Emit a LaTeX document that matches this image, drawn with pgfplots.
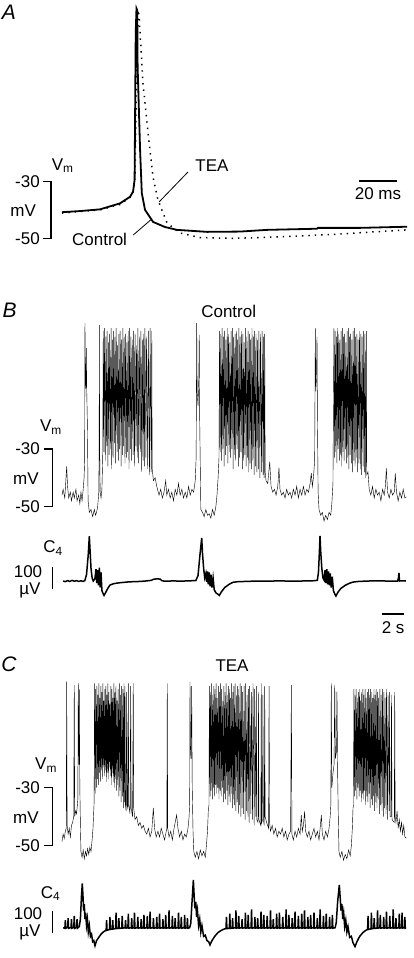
\documentclass[border=0pt]{standalone}
\usepackage{pgfplots}
\pgfplotsset{compat=1.18}
\usepackage{fontspec}
\setmainfont{Liberation Sans}

% one axis per trace, hidden; units chosen so that 1 px of the figure = 1 pt
\pgfplotsset{trace/.style={hide axis, clip=false, enlargelimits=false,
    anchor=south west, no markers}}
\tikzset{lbl/.style={font=\fontsize{17}{19}\selectfont, inner sep=0pt},
    letter/.style={font=\fontsize{21}{23}\selectfont\itshape, inner sep=0pt}}

\begin{document}
\begin{tikzpicture}
\useasboundingbox (0,0) rectangle (414pt,-958pt);

% ---------------- A : single spike, ms / mV
\begin{axis}[trace, at={(62pt,-252.95pt)}, x=1.9pt, y=2.85pt,
    xmin=0, xmax=181.6, ymin=-55, ymax=35]
\addplot[black, line width=1.5pt, dash pattern=on 1.4pt off 5pt] coordinates {
  (0,-41.0) (20,-39.9) (30.5,-38.0) (35.8,-35.5) (37.6,-33.3) (38.4,-29.4)
  (38.9,-8.3) (39.5,19.7) (40.2,29.1) (40.5,28.8) (41.1,22.2) (42.6,4.6)
  (45.3,-12.9) (47.9,-28.4) (50.5,-36.4) (55.3,-44.5) (62.1,-48.0)
  (72.6,-49.6) (90,-49.9) (116.3,-49.3) (142.6,-48.5) (181.6,-46.9)};
\addplot[black, line width=1.8pt] coordinates {
  (0,-40.7) (9.5,-40.3) (20,-39.7) (30.5,-37.6) (35.8,-35.3) (37.4,-33.5)
  (38.2,-29.4) (38.4,-12.9) (38.8,22.2) (39.2,30.8) (39.6,30.2) (39.8,10.4)
  (41.1,-18.9) (42.0,-34.0) (43.7,-39.9) (47.9,-44.1) (54.2,-45.9)
  (60.5,-46.9) (76.3,-47.6) (93.7,-47.5) (107.9,-46.9) (134.2,-46.5)
  (134.7,-46.2) (156.8,-46.2) (181.6,-45.8)};
% scale bars and pointers
\addplot[black, line width=1.2pt] coordinates {(-9.8,-30) (-5.79,-30) (-5.79,-50) (-9.8,-50)};
\addplot[black, line width=1.2pt] coordinates {(156.3,-29.75) (176.3,-29.75)};
\addplot[black, line width=0.8pt] coordinates {(66.3,-26.6) (51.1,-37.1)};
\addplot[black, line width=0.8pt] coordinates {(37.5,-48.7) (46.7,-43.4)};
\node[letter] at (axis cs:-27.9,29.5) {A};
\node[lbl] at (axis cs:0.4,-24.3) {V\textsubscript{m}};
\node[lbl, anchor=east] at (axis cs:-11.6,-30) {-30};
\node[lbl, anchor=east] at (axis cs:-11.6,-50) {-50};
\node[lbl] at (axis cs:-20.4,-40.2) {mV};
\node[lbl] at (axis cs:78.9,-24.5) {TEA};
\node[lbl] at (axis cs:19.8,-50.2) {Control};
\node[lbl] at (axis cs:166.3,-34.2) {20 ms};
\end{axis}

% ---------------- B : control, Vm (s / mV)
\begin{axis}[trace, at={(62pt,-535.4pt)}, x=11.15pt, y=2.88pt,
    xmin=0, xmax=30.88, ymin=-60, ymax=20]
\addplot[black, line width=0.42pt] coordinates {
  (0,-46) (0.1,-44) (0.25,-47) (0.42,-36) (0.5,-43) (0.6,-47) (0.75,-45)
  (0.85,-48) (1.0,-45) (1.1,-47) (1.25,-44) (1.35,-48) (1.5,-46) (1.6,-49)
  (1.7,-45) (1.8,-48) (1.9,-44) (1.98,-40) (2.03,-34) (2.06,13.7) (2.10,-6)
  (2.14,-9) (2.18,5) (2.22,-10) (2.28,-22) (2.34,-48) (2.45,-52) (2.6,-51)
  (2.75,-53.5) (2.9,-51) (3.0,-53) (3.1,-52) (3.2,-50) (3.3,-45) (3.33,-30)
  (3.35,13) (3.38,-30) (3.42,-45) (3.5,-47) (3.58,-44)
  (3.65,-33) (3.70,11) (3.75,-31) (3.80,12) (3.88,-34) (3.93,9) (3.99,-29)
  (4.04,11) (4.11,-36) (4.16,7) (4.22,-32) (4.27,10) (4.35,-30) (4.40,12)
  (4.46,-37) (4.51,8) (4.58,-33) (4.63,11) (4.70,-28) (4.75,9) (4.81,-35)
  (4.86,12) (4.94,-31) (4.99,6) (5.05,-34) (5.10,10) (5.17,-30) (5.22,11)
  (5.30,-36) (5.35,8) (5.41,-32) (5.46,12) (5.53,-29) (5.58,9) (5.65,-35)
  (5.70,10) (5.77,-33) (5.82,7) (5.89,-31) (5.94,11) (6.01,-37) (6.06,12)
  (6.13,-30) (6.18,9) (6.25,-34) (6.30,8) (6.38,-32) (6.43,11) (6.50,-36)
  (6.55,10) (6.63,-29) (6.68,6) (6.75,-33) (6.80,12) (6.88,-35) (6.93,9)
  (7.02,-31) (7.07,11) (7.15,-38) (7.20,8) (7.28,-34) (7.33,10) (7.39,-36)
  (7.44,12) (7.53,-33) (7.58,9) (7.69,-37) (7.74,11) (7.85,-39) (7.90,12)
  (8.00,-38) (8.05,11)
  (8.09,-37) (8.2,-41) (8.35,-40) (8.5,-43) (8.7,-46) (8.85,-44) (9.0,-47)
  (9.15,-45) (9.3,-41) (9.4,-46) (9.55,-44) (9.7,-47) (9.85,-45) (10.0,-48)
  (10.15,-44) (10.3,-46) (10.45,-42) (10.6,-46) (10.75,-44) (10.9,-47)
  (11.05,-45) (11.2,-47) (11.35,-43) (11.5,-46) (11.65,-44) (11.8,-45)
  (11.95,-41) (12.03,-33) (12.08,13.7) (12.12,-10) (12.2,-15) (12.27,-5)
  (12.31,9.6) (12.35,-20) (12.45,-51) (12.6,-52) (12.75,-53.5) (12.9,-51)
  (13.05,-53) (13.2,-52.5) (13.35,-54) (13.5,-51) (13.65,-53) (13.8,-50)
  (13.9,-46) (14.0,-40)
  (14.08,-33) (14.13,11) (14.19,-31) (14.24,10) (14.31,-34) (14.36,12)
  (14.42,-30) (14.47,9) (14.54,-36) (14.59,11) (14.65,-32) (14.70,8)
  (14.77,-29) (14.82,12) (14.88,-35) (14.93,10) (15.00,-31) (15.05,7)
  (15.12,-33) (15.17,11) (15.23,-30) (15.28,12) (15.35,-37) (15.40,9)
  (15.47,-32) (15.52,10) (15.58,-34) (15.63,11) (15.70,-30) (15.75,8)
  (15.82,-36) (15.87,12) (15.93,-33) (15.98,9) (16.05,-31) (16.10,11)
  (16.17,-37) (16.22,10) (16.28,-34) (16.33,7) (16.40,-32) (16.45,12)
  (16.52,-36) (16.57,9) (16.64,-33) (16.69,11) (16.75,-38) (16.80,10)
  (16.87,-35) (16.92,8) (16.99,-37) (17.04,12) (17.11,-34) (17.16,9)
  (17.23,-39) (17.28,11) (17.35,-36) (17.40,10) (17.48,-38) (17.53,8)
  (17.61,-37) (17.66,11) (17.75,-40) (17.80,10) (17.90,-38) (17.95,11)
  (18.03,-39) (18.08,9) (18.13,-40) (18.18,10)
  (18.22,-38) (18.3,-41) (18.45,-42) (18.63,-34.4) (18.75,-43) (18.9,-45)
  (19.05,-44) (19.2,-46) (19.35,-43) (19.46,-36.5) (19.55,-44) (19.7,-46)
  (19.85,-45) (20.0,-47) (20.15,-44) (20.3,-46) (20.45,-45) (20.6,-47)
  (20.75,-44) (20.9,-46) (21.05,-43) (21.2,-47) (21.35,-44) (21.5,-46)
  (21.65,-43) (21.8,-46) (21.95,-44) (22.1,-45) (22.25,-42) (22.36,-38.4)
  (22.45,-43) (22.55,-40) (22.66,-34) (22.72,11.9) (22.76,-10) (22.82,-6)
  (22.87,9) (22.91,-20) (22.97,-45) (23.05,-51) (23.2,-53) (23.35,-52)
  (23.5,-55) (23.65,-53) (23.8,-54.5) (23.95,-52) (24.1,-53) (24.2,-49)
  (24.3,-42) (24.39,11.9)
  (24.45,-33) (24.50,11) (24.55,-31) (24.60,9) (24.66,-35) (24.71,12)
  (24.77,-30) (24.82,10) (24.87,-34) (24.92,8) (24.98,-32) (25.03,11)
  (25.09,-36) (25.14,12) (25.20,-31) (25.25,9) (25.30,-34) (25.35,10)
  (25.41,-30) (25.46,7) (25.52,-35) (25.57,11) (25.63,-33) (25.68,12)
  (25.73,-37) (25.78,9) (25.84,-32) (25.89,10) (25.95,-35) (26.00,8)
  (26.06,-38) (26.11,11) (26.17,-34) (26.22,12) (26.28,-36) (26.33,9)
  (26.39,-33) (26.44,10) (26.51,-38) (26.56,8) (26.63,-35) (26.68,11)
  (26.75,-37) (26.80,10) (26.87,-39) (26.92,9) (27.00,-36) (27.05,11)
  (27.12,-38) (27.17,10) (27.24,-40) (27.29,11)
  (27.33,-39) (27.44,-37.9) (27.55,-44) (27.7,-46) (27.85,-43) (28.0,-47)
  (28.15,-44) (28.3,-46) (28.45,-45) (28.6,-48) (28.75,-44) (28.9,-46)
  (29.0,-43) (29.09,-36.7) (29.2,-45) (29.35,-47) (29.5,-44) (29.65,-46)
  (29.8,-45) (29.89,-38.5) (30.0,-45) (30.15,-48) (30.3,-45) (30.45,-47)
  (30.6,-44) (30.75,-47) (30.88,-46.6)};
\addplot[black, line width=1.2pt] coordinates {(-1.6,-30) (-0.87,-30) (-0.87,-50) (-1.6,-50)};
\node[letter] at (axis cs:-4.69,18.0) {B};
\node[lbl] at (axis cs:14.95,17.9) {Control};
\node[lbl] at (axis cs:-0.99,-22.4) {V\textsubscript{m}};
\node[lbl, anchor=east] at (axis cs:-1.97,-30) {-30};
\node[lbl, anchor=east] at (axis cs:-1.97,-50) {-50};
\node[lbl] at (axis cs:-3.23,-40.4) {mV};
\end{axis}

% ---------------- B : control, C4 (s / uV)
\begin{axis}[trace, at={(62pt,-602.5pt)}, x=11.15pt, y=0.215pt,
    xmin=0, xmax=30.88, ymin=-100, ymax=250]
\addplot[black, line width=1.5pt] coordinates {
  (0.1,0) (0.3,-3) (0.5,2) (0.7,-2) (0.9,3) (1.1,-1) (1.3,2) (1.5,-2)
  (1.7,1) (1.9,-2) (2.05,2) (2.2,30) (2.35,120) (2.45,208) (2.52,140)
  (2.6,60) (2.7,15) (2.8,0) (2.95,10) (3.05,55) (3.12,-10) (3.2,50)
  (3.27,-20) (3.35,62) (3.42,-30) (3.5,40) (3.58,-45) (3.7,-60) (3.77,-67)
  (3.9,-55) (4.1,-35) (4.3,-19) (4.6,-13) (4.9,-10) (5.2,-8) (5.6,-6)
  (6.0,-4) (6.5,-3) (7.0,-2) (7.5,0) (8.0,3) (8.2,8) (8.5,10) (8.8,9)
  (8.94,2) (9.1,0) (9.5,-1) (10,1) (10.5,-1) (11,0) (11.5,1) (12.0,2)
  (12.2,25) (12.35,110) (12.53,200) (12.6,130) (12.7,60) (12.8,15)
  (12.9,35) (12.97,-5) (13.05,45) (13.12,-15) (13.2,40) (13.28,-25)
  (13.36,30) (13.45,-30) (13.55,15) (13.65,-40) (13.8,-55) (14.0,-62)
  (14.11,-67) (14.3,-50) (14.6,-30) (15.0,-15) (15.34,-6) (15.8,-3)
  (16.5,-2) (17.5,0) (18.5,-1) (19.5,1) (20.5,-1) (21.5,0) (22.5,1)
  (22.9,3) (23.0,40) (23.08,130) (23.14,210) (23.2,140) (23.3,60)
  (23.4,15) (23.5,5) (23.59,50) (23.66,-10) (23.75,55) (23.82,-15)
  (23.9,45) (23.98,-20) (24.06,35) (24.14,-30) (24.24,20) (24.34,-45)
  (24.48,-62) (24.57,-70) (24.75,-52) (25.0,-35) (25.4,-20) (25.8,-10)
  (26.1,-5) (26.6,-2) (27.5,0) (28.5,1) (29.5,-1) (30.1,0) (30.18,15)
  (30.22,38) (30.27,0) (30.5,1) (30.85,0)};
\addplot[black, line width=1.2pt] coordinates {(-0.87,-35) (-0.87,65)};
\addplot[black, line width=1.2pt] coordinates {(28.70,-153) (30.70,-153)};
\node[lbl] at (axis cs:-0.81,153) {C\textsubscript{4}};
\node[lbl] at (axis cs:-3.05,42) {100};
\node[lbl] at (axis cs:-2.87,-42) {µV};
\node[lbl] at (axis cs:29.7,-219) {2 s};
\end{axis}

% ---------------- C : TEA, Vm (s / mV)
\begin{axis}[trace, at={(62pt,-874.7pt)}, x=11.15pt, y=2.9pt,
    xmin=0, xmax=30.88, ymin=-60, ymax=20]
\addplot[black, line width=0.42pt] coordinates {
  (0,-48.6) (0.1,-46) (0.2,-47.5) (0.3,-45) (0.38,-44) (0.42,6.6) (0.46,-43)
  (0.55,-46) (0.65,-44) (0.75,-47) (0.85,-43) (0.95,-42) (1.05,-40)
  (1.10,5.4) (1.14,-40) (1.22,-38) (1.3,-39) (1.38,-36) (1.42,-34)
  (1.46,6.1) (1.50,-20) (1.52,-22) (1.55,4) (1.60,-30) (1.66,-45)
  (1.70,-52) (1.8,-54) (1.9,-51.5) (2.0,-54.5) (2.1,-52) (2.2,-53.5)
  (2.3,-51) (2.4,-53) (2.5,-50.5) (2.6,-52) (2.7,-48) (2.78,-44)
  (2.88,-35) (2.92,6) (2.98,-32) (3.02,4) (3.08,-30) (3.12,5) (3.18,-27)
  (3.22,2) (3.27,-29) (3.31,6) (3.36,-25) (3.40,1) (3.45,-28) (3.49,5)
  (3.54,-24) (3.58,3) (3.63,-27) (3.67,6) (3.72,-23) (3.76,0) (3.81,-26)
  (3.85,4) (3.90,-24) (3.94,5) (3.99,-28) (4.03,2) (4.08,-25) (4.12,6)
  (4.17,-27) (4.21,3) (4.26,-23) (4.30,-1) (4.35,-26) (4.39,5) (4.44,-29)
  (4.48,4) (4.53,-25) (4.57,1) (4.62,-28) (4.66,6) (4.71,-30) (4.75,3)
  (4.80,-27) (4.84,5) (4.90,-31) (4.94,0) (5.00,-29) (5.04,4) (5.10,-33)
  (5.14,6) (5.20,-31) (5.24,2) (5.31,-35) (5.35,5) (5.42,-33) (5.46,4)
  (5.52,-37) (5.56,6) (5.61,-35) (5.65,5) (5.69,-36) (5.75,-38) (5.80,3)
  (5.84,-36) (5.90,-37) (5.95,6) (5.99,-36) (6.10,-39) (6.16,5) (6.20,-37)
  (6.33,-40) (6.39,6)
  (6.43,-37) (6.55,-41) (6.7,-40) (6.85,-43) (7.0,-42) (7.15,-44) (7.3,-43)
  (7.45,-45) (7.6,-46) (7.75,-44) (7.9,-47) (8.05,-45) (8.19,-37) (8.3,-44)
  (8.45,-47) (8.6,-45) (8.75,-47) (8.9,-44) (9.05,-46) (9.2,-48) (9.35,-45)
  (9.40,-44) (9.44,6) (9.48,-44) (9.6,-47) (9.75,-45) (9.9,-48) (10.05,-44)
  (10.15,-42) (10.28,-39.4) (10.4,-44) (10.55,-47) (10.7,-45) (10.85,-48)
  (11.0,-46) (11.15,-47) (11.3,-44) (11.4,-40) (11.45,-35) (11.48,6.6)
  (11.52,-15) (11.58,-20) (11.63,5) (11.68,-30) (11.75,-45) (11.82,-52)
  (11.95,-54) (12.1,-52) (12.25,-54.5) (12.4,-51.5) (12.55,-53.5) (12.7,-52)
  (12.85,-54) (12.95,-50) (13.05,-45) (13.12,-38)
  (13.18,-36) (13.22,5) (13.28,-33) (13.32,3) (13.38,-31) (13.42,6)
  (13.48,-34) (13.52,2) (13.58,-30) (13.62,5) (13.68,-33) (13.72,4)
  (13.78,-29) (13.82,6) (13.88,-32) (13.92,1) (13.98,-30) (14.02,5)
  (14.08,-34) (14.12,3) (14.18,-31) (14.22,6) (14.28,-33) (14.32,4)
  (14.38,-30) (14.42,0) (14.48,-35) (14.52,5) (14.58,-32) (14.62,3)
  (14.68,-34) (14.72,6) (14.78,-31) (14.82,2) (14.88,-36) (14.92,5)
  (14.98,-33) (15.02,4) (15.08,-35) (15.12,1) (15.18,-32) (15.22,6)
  (15.28,-37) (15.32,3) (15.38,-34) (15.42,5) (15.48,-36) (15.52,6)
  (15.59,-38) (15.63,2) (15.71,-35) (15.75,5) (15.81,-39) (15.85,4)
  (15.93,-36) (15.97,6) (16.04,-40) (16.08,5) (16.16,-37) (16.20,3)
  (16.29,-39) (16.33,5) (16.43,-41) (16.47,6) (16.56,-38) (16.60,2)
  (16.68,-40) (16.72,4) (16.79,-42) (16.83,5) (16.94,-39) (16.98,3)
  (17.09,-41) (17.13,6) (17.24,-43) (17.28,4) (17.39,-40) (17.43,5)
  (17.47,-41) (17.58,-42) (17.62,3) (17.66,-41) (17.83,-43) (17.87,6)
  (17.91,-42) (17.98,-41) (18.02,2) (18.06,-41) (18.14,-43) (18.18,5)
  (18.22,-40) (18.35,-42) (18.53,-44) (18.57,5)
  (18.62,-42) (18.7,-45) (18.85,-43) (19.0,-46) (19.15,-44) (19.3,-47)
  (19.45,-45) (19.6,-46) (19.75,-44) (19.9,-47) (20.05,-45) (20.2,-48)
  (20.35,-46) (20.5,-45) (20.57,5.4) (20.62,-46) (20.75,-48) (20.9,-45)
  (21.05,-47) (21.2,-44) (21.35,-46) (21.46,-39.4) (21.55,-45) (21.65,-43)
  (21.76,-38.2) (21.85,-45) (22.0,-47) (22.15,-45) (22.3,-48) (22.45,-46)
  (22.6,-44) (22.75,-47) (22.9,-45) (23.05,-48) (23.15,-44) (23.26,-39.4)
  (23.35,-46) (23.5,-48) (23.65,-45) (23.8,-47) (23.95,-44) (24.05,-40)
  (24.11,-36) (24.15,6) (24.2,-30) (24.3,-25) (24.4,-22) (24.46,5.4)
  (24.52,-20) (24.6,-18) (24.66,3.1) (24.72,-25) (24.78,-40) (24.84,-52)
  (24.95,-54) (25.1,-52) (25.25,-55) (25.4,-53) (25.55,-54.5) (25.7,-51.5)
  (25.85,-53.5) (25.95,-50) (26.04,-44) (26.1,-37)
  (26.14,-36) (26.18,4) (26.24,-33) (26.28,2) (26.34,-31) (26.38,4)
  (26.44,-34) (26.48,1) (26.54,-30) (26.58,3) (26.64,-33) (26.68,4)
  (26.74,-31) (26.78,0) (26.84,-35) (26.88,3) (26.94,-32) (26.98,4)
  (27.04,-34) (27.08,2) (27.14,-31) (27.18,4) (27.24,-36) (27.28,1)
  (27.34,-33) (27.38,3) (27.44,-35) (27.48,4) (27.54,-32) (27.58,2)
  (27.64,-37) (27.68,4) (27.74,-34) (27.78,3) (27.84,-36) (27.88,1)
  (27.94,-33) (27.98,4) (28.04,-38) (28.08,2) (28.14,-35) (28.18,4)
  (28.25,-37) (28.29,3) (28.36,-34) (28.40,1) (28.47,-39) (28.51,4)
  (28.58,-36) (28.62,2) (28.70,-38) (28.74,4) (28.82,-40) (28.86,3)
  (28.94,-37) (28.98,1) (29.06,-39) (29.10,4) (29.20,-41) (29.24,2)
  (29.34,-38) (29.38,3) (29.42,-40) (29.51,-40) (29.55,2) (29.60,-41)
  (29.80,-42) (29.84,3) (29.88,-40)
  (29.95,-42) (30.05,-38) (30.15,-44) (30.25,-41) (30.35,-45) (30.45,-42)
  (30.55,-46) (30.65,-43) (30.75,-47) (30.88,-47.4)};
\addplot[black, line width=1.2pt] coordinates {(-1.6,-30) (-0.87,-30) (-0.87,-50) (-1.6,-50)};
\node[letter] at (axis cs:-4.75,12.6) {C};
\node[lbl] at (axis cs:15.25,12.1) {TEA};
\node[lbl] at (axis cs:-1.43,-22.2) {V\textsubscript{m}};
\node[lbl, anchor=east] at (axis cs:-1.97,-30) {-30};
\node[lbl, anchor=east] at (axis cs:-1.97,-50) {-50};
\node[lbl] at (axis cs:-3.23,-40.3) {mV};
\end{axis}

% ---------------- C : TEA, C4 (s / uV)
\begin{axis}[trace, at={(62pt,-949.2pt)}, x=11.15pt, y=0.215pt,
    xmin=0, xmax=30.88, ymin=-100, ymax=250]
\addplot[black, line width=1.5pt] coordinates {
  (0.1,0) (0.26,-3) (0.3,35) (0.34,-2) (0.51,2) (0.55,45) (0.59,-3)
  (0.81,1) (0.85,40) (0.89,-2) (1.06,2) (1.1,55) (1.14,-3) (1.31,1)
  (1.35,40) (1.39,-2) (1.55,5) (1.65,40) (1.75,150) (1.82,206) (1.88,150)
  (1.94,80) (2.0,110) (2.06,40) (2.12,70) (2.2,10) (2.28,40) (2.36,-20)
  (2.45,10) (2.55,-40) (2.65,-30) (2.75,-65) (2.85,-60) (2.96,-84)
  (3.1,-60) (3.3,-45) (3.5,-30) (3.7,-20) (3.85,-15)
  (3.96,-12) (4.0,35) (4.04,-12) (4.26,-8) (4.3,50) (4.34,-8)
  (4.51,-6) (4.55,35) (4.59,-6) (4.81,-4) (4.85,70) (4.89,-4)
  (5.06,-3) (5.1,45) (5.14,-3) (5.36,-2) (5.4,55) (5.44,-2)
  (5.66,0) (5.7,35) (5.74,-2) (5.91,0) (5.95,65) (5.99,-2)
  (6.21,0) (6.25,45) (6.29,-2) (6.46,0) (6.5,70) (6.54,-2)
  (6.76,0) (6.8,50) (6.84,-2) (7.06,0) (7.1,40) (7.14,-2)
  (7.31,0) (7.35,60) (7.39,-2) (7.61,0) (7.65,55) (7.69,-2)
  (7.86,0) (7.9,75) (7.94,-2) (8.16,0) (8.2,45) (8.24,-2)
  (8.46,0) (8.5,50) (8.54,-2) (8.71,0) (8.75,65) (8.79,-2)
  (9.01,0) (9.05,40) (9.09,-2) (9.26,0) (9.3,60) (9.34,-2)
  (9.56,0) (9.6,80) (9.64,-2) (9.86,0) (9.9,55) (9.94,-2)
  (10.11,0) (10.15,45) (10.19,-2) (10.41,0) (10.45,70) (10.49,-2)
  (10.66,0) (10.7,50) (10.74,-2) (10.96,0) (11.0,60) (11.04,-2)
  (11.21,0) (11.25,45) (11.29,-2)
  (11.45,0) (11.55,20) (11.65,110) (11.78,222) (11.85,150) (11.92,90)
  (12.0,120) (12.07,50) (12.15,80) (12.25,10) (12.35,40) (12.45,-20)
  (12.55,10) (12.7,-40) (12.85,-35) (13.0,-60) (13.15,-65) (13.27,-80)
  (13.45,-60) (13.7,-40) (14.0,-22) (14.3,-12) (14.55,-6)
  (14.71,-4) (14.75,50) (14.79,-4) (15.01,-3) (15.05,65) (15.09,-3)
  (15.26,-2) (15.3,45) (15.34,-2) (15.56,0) (15.6,80) (15.64,-2)
  (15.81,0) (15.85,55) (15.89,-2) (16.11,0) (16.15,40) (16.19,-2)
  (16.41,0) (16.45,70) (16.49,-2) (16.66,0) (16.7,60) (16.74,-2)
  (16.96,0) (17.0,85) (17.04,-2) (17.26,0) (17.3,50) (17.34,-2)
  (17.51,0) (17.55,45) (17.59,-2) (17.81,0) (17.85,75) (17.89,-2)
  (18.06,0) (18.1,60) (18.14,-2) (18.36,0) (18.4,55) (18.44,-2)
  (18.66,0) (18.7,80) (18.74,-2) (18.91,0) (18.95,40) (18.99,-2)
  (19.21,0) (19.25,65) (19.29,-2) (19.46,0) (19.5,70) (19.54,-2)
  (19.76,0) (19.8,50) (19.84,-2) (20.06,0) (20.1,85) (20.14,-2)
  (20.31,0) (20.35,60) (20.39,-2) (20.61,0) (20.65,45) (20.69,-2)
  (20.86,0) (20.9,75) (20.94,-2) (21.16,0) (21.2,55) (21.24,-2)
  (21.46,0) (21.5,65) (21.54,-2) (21.71,0) (21.75,80) (21.79,-2)
  (22.01,0) (22.05,50) (22.09,-2) (22.26,0) (22.3,60) (22.34,-2)
  (22.56,0) (22.6,70) (22.64,-2) (22.86,0) (22.9,45) (22.94,-2)
  (23.11,0) (23.15,85) (23.19,-2) (23.41,0) (23.45,55) (23.49,-2)
  (23.66,0) (23.7,65) (23.74,-2) (23.96,0) (24.0,50) (24.04,-2)
  (24.21,0) (24.25,60) (24.29,-2)
  (24.5,0) (24.6,25) (24.72,120) (24.87,199) (24.95,140) (25.02,80)
  (25.1,110) (25.18,40) (25.26,70) (25.35,5) (25.45,35) (25.55,-20)
  (25.65,5) (25.8,-45) (25.95,-40) (26.1,-70) (26.28,-88) (26.45,-65)
  (26.7,-40) (27.0,-22) (27.25,-12)
  (27.41,-8) (27.45,55) (27.49,-8) (27.71,-5) (27.75,70) (27.79,-5)
  (27.96,-3) (28.0,45) (28.04,-3) (28.26,-2) (28.3,80) (28.34,-2)
  (28.51,0) (28.55,60) (28.59,-2) (28.81,0) (28.85,50) (28.89,-2)
  (29.06,0) (29.1,75) (29.14,-2) (29.36,0) (29.4,55) (29.44,-2)
  (29.66,0) (29.7,85) (29.74,-2) (29.91,0) (29.95,45) (29.99,-2)
  (30.21,0) (30.25,65) (30.29,-2) (30.46,0) (30.5,70) (30.54,-2)
  (30.71,0) (30.75,50) (30.79,-2) (30.85,0)};
\addplot[black, line width=1.2pt] coordinates {(-0.87,-25) (-0.87,80)};
\node[lbl] at (axis cs:-1.03,158) {C\textsubscript{4}};
\node[lbl] at (axis cs:-3.05,66) {100};
\node[lbl] at (axis cs:-2.87,-22) {µV};
\end{axis}
\end{tikzpicture}
\end{document}
